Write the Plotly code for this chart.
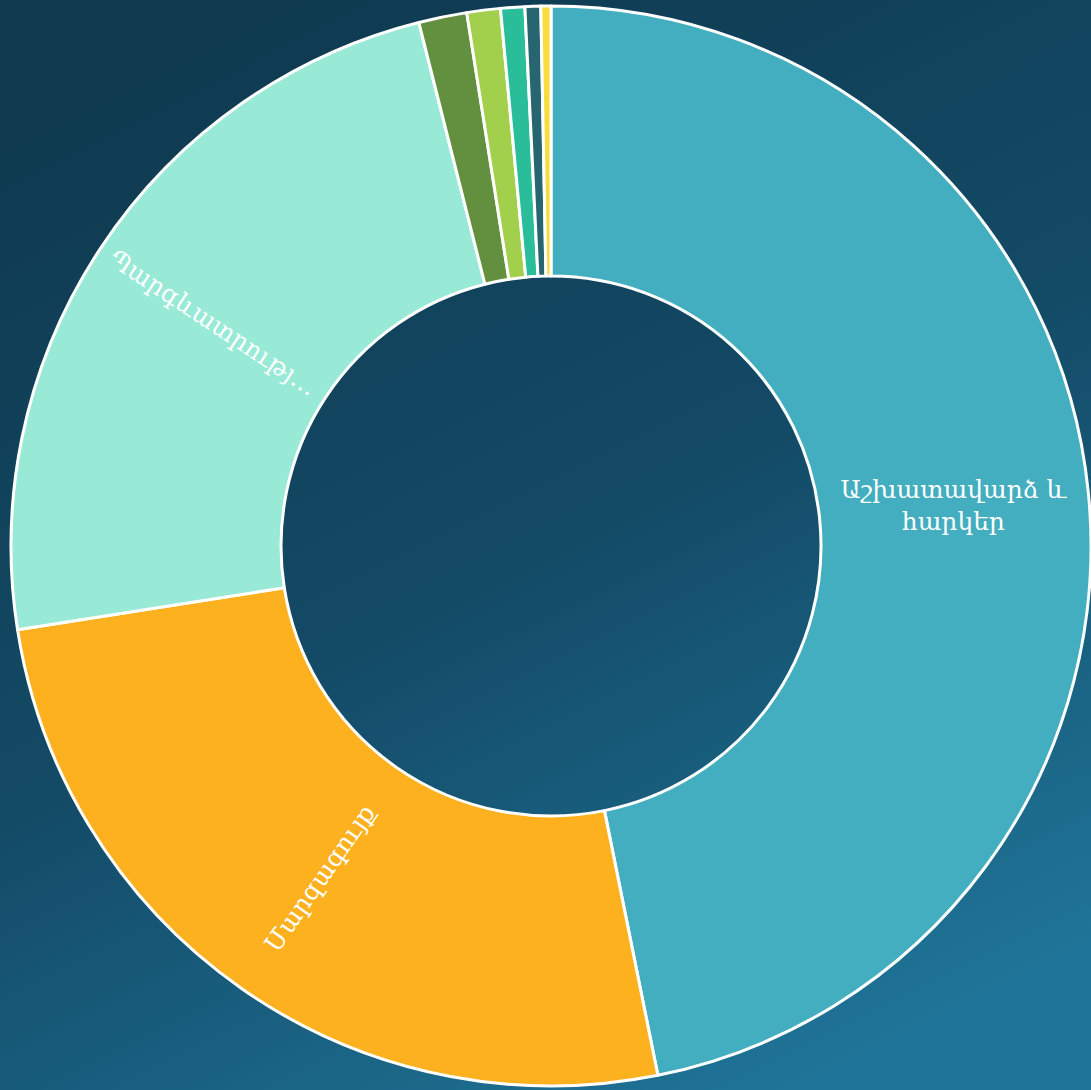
import base64
import plotly.graph_objects as go

categories = [
    "Աշխատավարձ և հարկեր",
    "Մարզագույք",
    "Պարգևատրություններ",
    "Տրանսպորտ",
    "Կոմունալ ծախսեր",
    "Գրենական պիտույքներ",
    "Սննդամթերք",
    "Այլ ծախսեր",
]
values = [46.75, 25.65, 23.5, 1.44, 1.0, 0.72, 0.47, 0.3]
label_main = "Աշխատավարձ և<br>հարկեր"
label_orange = "Մարզագույք"
label_mint = "Պարգևատրությ…"
colors = ["#43AEBF", "#FDB11F", "#98E9D6", "#62903F", "#A3D04C", "#2ABD9A", "#276670", "#F7DC3C"]

domain = dict(x=[0.0101, 1.0], y=[0.0, 0.99817])
font = dict(family="DejaVu Serif, Noto Serif, serif", size=25, color="white")
common = dict(sort=False, direction="clockwise", rotation=0, hole=0.5, domain=domain,
              showlegend=False, textposition="inside", textinfo="text", textfont=font)

# Trace 1: the slices, with the horizontal label on the largest one
fig = go.Figure()
fig.add_trace(go.Pie(
    labels=categories, values=values,
    text=[label_main] + [""] * (len(values) - 1),
    insidetextorientation="horizontal",
    marker=dict(colors=colors, line=dict(color="white", width=3)),
    **common,
))

# Trace 2: transparent copy carrying the radial labels. The third slice is split
# (from the data) at the horizontal axis so that its label stays centred on the slice.
total = sum(values)
first_two = values[0] + values[1]
mint_a = 0.75 * total - first_two
mint_mid = first_two + values[2] / 2
mint_b1 = 2 * (mint_mid - 0.75 * total)
mint_b2 = values[2] - mint_a - mint_b1
text_values = [values[0], values[1], mint_a, mint_b1, mint_b2] + values[3:]
text_labels = ["", label_orange, "", label_mint, ""] + [""] * len(values[3:])
fig.add_trace(go.Pie(
    values=text_values, text=text_labels,
    insidetextorientation="radial",
    marker=dict(colors=["rgba(0,0,0,0)"] * len(text_values), line=dict(width=0)),
    hoverinfo="skip",
    **common,
))

svg = (
    '<svg xmlns="http://www.w3.org/2000/svg" width="1091" height="1090" preserveAspectRatio="none">'
    '<defs><linearGradient id="g" x1="0.25" y1="0" x2="0.75" y2="1">'
    '<stop offset="0" stop-color="#0F3A50"/><stop offset="0.5" stop-color="#134A66"/>'
    '<stop offset="1" stop-color="#1F7599"/></linearGradient></defs>'
    '<rect width="1091" height="1090" fill="url(#g)"/></svg>'
)
src = "data:image/svg+xml;base64," + base64.b64encode(svg.encode()).decode()

fig.update_layout(
    width=1091, height=1090,
    margin=dict(l=0, r=0, t=0, b=0),
    paper_bgcolor="#134A66", plot_bgcolor="rgba(0,0,0,0)",
    images=[dict(source=src, xref="paper", yref="paper", x=0, y=1, sizex=1, sizey=1,
                 xanchor="left", yanchor="top", sizing="stretch", layer="below")],
)
fig.write_html(
    "out.html",
    config={"displayModeBar": False},
    post_script="document.body.style.margin='0';document.documentElement.style.overflow='hidden';"
                "document.body.style.background='#134A66';",
)
